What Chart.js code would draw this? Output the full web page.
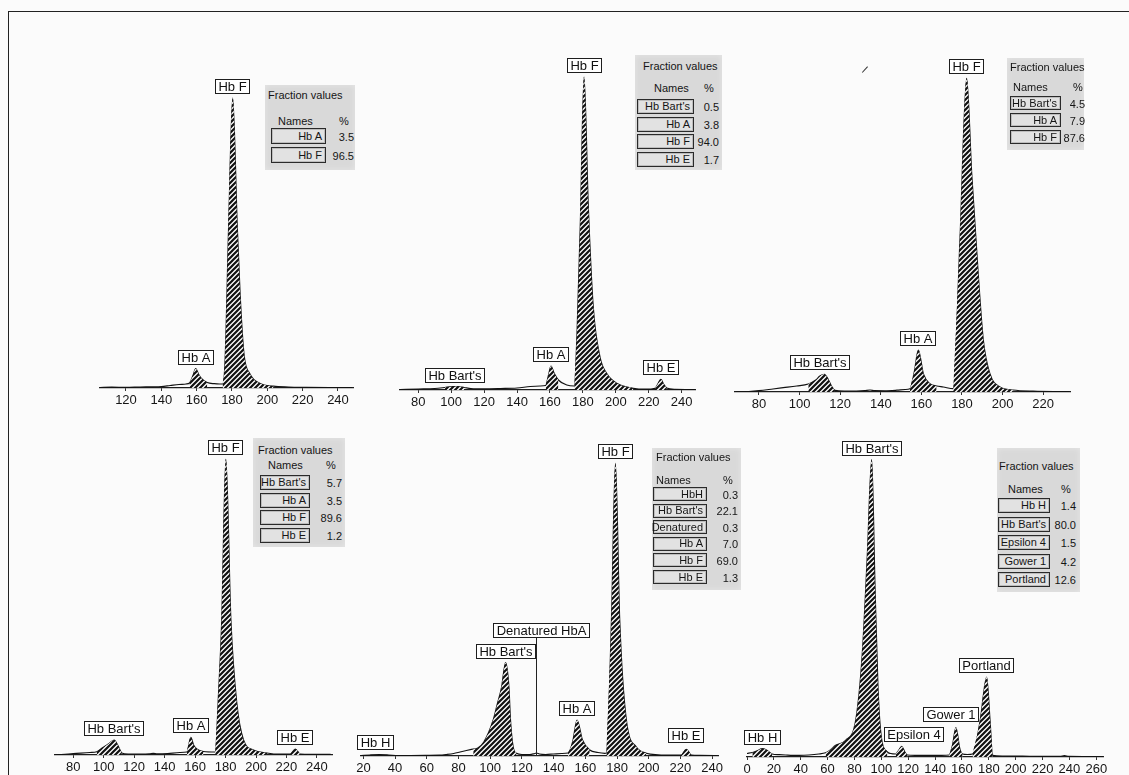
<!DOCTYPE html>
<html>
<head>
<meta charset="utf-8">
<title>Hemoglobin fraction electropherograms</title>
<script src="https://cdn.jsdelivr.net/npm/chart.js@4.4.0/dist/chart.umd.min.js"></script>
<style>
  html, body { margin: 0; padding: 0; }
  body {
    width: 1129px; height: 775px; overflow: hidden; position: relative;
    background: #fbfbfb;
    font-family: "Liberation Sans", Arial, Helvetica, sans-serif;
    color: #151515;
  }
  .frame {
    position: absolute; left: 8px; top: 11px; width: 1160px; height: 800px;
    border-left: 1.5px solid #222; border-top: 1.5px solid #222;
  }
  canvas { position: absolute; }
  .fv {
    position: absolute; background: #d9d9d9; font-size: 11px; line-height: 1;
    box-shadow: inset 0 0 6px rgba(255,255,255,0.35);
  }
  .fv span { position: absolute; white-space: nowrap; }
  .fv .nm {
    position: absolute; box-sizing: border-box; border: 1px solid #2a2a2a;
    box-shadow: inset 0 0 0 1px #bdbdbd; background: #e2e2e2;
    text-align: right; padding-right: 3px; white-space: nowrap;
    display: flex; align-items: center; justify-content: flex-end;
  }
  .speck { position: absolute; background: #333; }
</style>
</head>
<body>
<div class="frame"></div>

<canvas id="c1"></canvas>
<canvas id="c2"></canvas>
<canvas id="c3"></canvas>
<canvas id="c4"></canvas>
<canvas id="c5"></canvas>
<canvas id="c6"></canvas>

<div class="speck" style="left:861px;top:69px;width:8px;height:1.2px;transform:rotate(-48deg);"></div>

<script>
// ---------- Panel 1: Hb A / Hb F ----------
const p1Ticks = [120, 140, 160, 180, 200, 220, 240];
const p1X = [105, 112, 120, 128, 135, 140, 145, 150, 154, 156, 157.8, 159.5, 161, 163, 166, 170, 173, 174.7, 176.1, 178.1, 180.4, 183.0, 184.6, 186.8, 190.2, 195.9, 203.4, 212, 222, 235, 248];
const p1Y = [0.5, 0.8, 0.6, 1, 1.2, 1.5, 2.5, 3.5, 4, 5, 12, 19.5, 14, 9, 5.5, 4.3, 4, 4, 28, 161, 290, 161, 94, 34, 14, 4.5, 1.8, 1, 0.7, 0.5, 0.4];
const p1Peaks = [[155, 167], [174.7, 204]];
const p1Labels = ['Hb A', 'Hb F'];
const p1LabelAt = [159.5, 180.4];
const p1Names = ['Hb A', 'Hb F'];
const p1Pct = ['3.5', '96.5'];

// ---------- Panel 2: Hb Bart's / Hb A / Hb F / Hb E ----------
const p2Ticks = [80, 100, 120, 140, 160, 180, 200, 220, 240];
const p2X = [69, 80, 90, 96, 100, 104, 108, 112, 120, 130, 140, 148, 154, 157.4, 159, 160.6, 162.5, 165.1, 170.2, 174.8, 176.5, 178.5, 180.7, 183.3, 186.3, 190.4, 194.4, 200.5, 210.6, 218, 223.8, 225.5, 227.4, 229, 230.9, 236, 248];
const p2Y = [0.5, 1, 1.5, 2.5, 3.3, 3.5, 2.5, 1.5, 1.2, 1.5, 2, 3.5, 4, 4.5, 14, 24, 17, 10, 5, 4, 60, 170, 313, 183, 83, 33, 16.7, 6.7, 1.7, 0.8, 1.7, 6, 10.7, 6, 2, 0.7, 0.5];
const p2Peaks = [[96, 108], [157.4, 168], [174.8, 211], [223.8, 231]];
const p2Labels = ["Hb Bart's", 'Hb A', 'Hb F', 'Hb E'];
const p2LabelAt = [102.3, 160.6, 180.7, 227.4];
const p2Names = ["Hb Bart's", 'Hb A', 'Hb F', 'Hb E'];
const p2Pct = ['0.5', '3.8', '94.0', '1.7'];

// ---------- Panel 3: Hb Bart's / Hb A / Hb F ----------
const p3Ticks = [80, 100, 120, 140, 160, 180, 200, 220];
const p3X = [68.5, 75, 80, 86.9, 92, 98.6, 104.3, 108, 110, 112.2, 114, 116, 117.4, 122, 128, 132, 134.7, 137, 142, 148, 152, 154.4, 156.5, 158.5, 161, 164.2, 167.5, 170.8, 175.7, 179, 182.3, 184.8, 188, 190.5, 193.8, 198.7, 205.1, 215, 225, 233];
const p3Y = [0, 0.5, 1.3, 3, 4.3, 6, 8, 12, 16, 17.7, 13, 5, 1.7, 1, 1, 1.3, 2, 1.3, 1.2, 1.8, 2.5, 3.3, 20, 42, 18, 8.3, 6, 5, 3.3, 152, 313.7, 218, 118, 52, 18, 5, 2, 0.8, 0.5, 0.5];
const p3Peaks = [[104.3, 117.4], [154.4, 167.5], [175.7, 205.1]];
const p3Labels = ["Hb Bart's", 'Hb A', 'Hb F'];
const p3LabelAt = [112.2, 158.5, 182.3];
const p3Names = ["Hb Bart's", 'Hb A', 'Hb F'];
const p3Pct = ['4.5', '7.9', '87.6'];

// ---------- Panel 4: Hb Bart's / Hb A / Hb F / Hb E ----------
const p4Ticks = [80, 100, 120, 140, 160, 180, 200, 220, 240];
const p4X = [68, 80, 91, 95.4, 99, 103, 106.8, 109.5, 111.8, 116, 124, 130, 132.6, 135, 142, 150, 154.6, 157.2, 159, 161.1, 165.5, 173.2, 175.5, 177.5, 180.2, 183.5, 187.4, 191.8, 198.3, 207.2, 215, 222.5, 225.8, 229, 236, 249];
const p4Y = [0, 1.5, 2.5, 3.3, 7, 11, 15, 9, 2, 1, 1, 1.2, 1.7, 1.2, 1.5, 2.5, 3, 17.7, 10, 6, 3.5, 3, 65, 135, 295.7, 135, 51.7, 15, 5, 2, 0.8, 1, 6, 1, 0.7, 0.7];
const p4Peaks = [[95.4, 111.8], [154.6, 165.5], [173.2, 207.2], [222.5, 229]];
const p4Labels = ["Hb Bart's", 'Hb A', 'Hb F', 'Hb E'];
const p4LabelAt = [106.8, 157.2, 180.2, 225.8];
const p4Names = ["Hb Bart's", 'Hb A', 'Hb F', 'Hb E'];
const p4Pct = ['5.7', '3.5', '89.6', '1.2'];

// ---------- Panel 5: Hb H / Hb Bart's / denatured Hb A / Hb A / Hb F / Hb E ----------
const p5Ticks = [20, 40, 60, 80, 100, 120, 140, 160, 180, 200, 220, 240];
const p5X = [18.5, 24, 30, 36, 42, 50, 60, 68, 72.5, 77, 81, 85, 89.3, 92.2, 96, 101.9, 104.5, 107.2, 109.7, 111.8, 112.8, 114.5, 116.6, 120, 125, 127.5, 129.2, 131, 135, 140, 145, 149.1, 152, 154.8, 158.2, 162.8, 168, 172.3, 173.3, 176.5, 179, 181.7, 185.9, 192.2, 198.5, 206, 215, 220.6, 223.7, 226.9, 232, 243.5];
const p5Y = [0.5, 1, 1.3, 1, 0.5, 0.5, 0.6, 0.8, 1.5, 2.5, 4, 5.5, 7, 8, 14, 36, 52, 69, 93.3, 69, 36, 9, 2.7, 1.5, 1.5, 2.2, 3, 2, 1.5, 2, 2.5, 3, 14, 36, 16, 6, 3.5, 2.7, 3, 136, 292.7, 136, 36, 9, 2.7, 1.2, 0.8, 1, 6.7, 1, 0.6, 0.5];
const p5Peaks = [[89.3, 116.6], [149.1, 162.8], [173.3, 198.5], [220.6, 226.9]];
const p5Labels = ['Hb H', "Hb Bart's", 'Denatured HbA', 'Hb A', 'Hb F', 'Hb E'];
const p5LabelAt = [27.4, 109.7, 129.2, 154.8, 179, 223.7];
const p5Names = ['HbH', "Hb Bart's", 'Denatured', 'Hb A', 'Hb F', 'Hb E'];
const p5Pct = ['0.3', '22.1', '0.3', '7.0', '69.0', '1.3'];

// ---------- Panel 6: embryonic hemoglobins ----------
const p6Ticks = [0, 20, 40, 60, 80, 100, 120, 140, 160, 180, 200, 220, 240, 260];
const p6X = [0, 4, 8, 11.2, 14.5, 18.7, 24, 28.7, 34, 38.6, 46, 53.5, 58.5, 61, 66, 73.4, 80.9, 85.8, 89.6, 92.8, 95.3, 97.5, 100, 104.5, 107, 110.7, 113, 115.2, 117.5, 119.4, 125, 135, 145, 150.5, 153, 155.5, 158.5, 160.4, 164, 167.9, 173.6, 178.4, 180.9, 182.8, 190, 205, 225, 233, 236.3, 239.5, 250, 265];
const p6Y = [3.5, 4.5, 6.5, 8.3, 7, 3, 2.3, 2, 1.7, 1.7, 2, 3, 4.3, 6, 11.7, 16.7, 36.7, 103, 203, 297.4, 170, 70, 20, 5, 3.5, 3, 7, 10.7, 5, 2, 1.7, 1.7, 1.7, 2, 12, 29.4, 8, 3, 2.5, 3, 36.7, 80, 36.7, 1.7, 1, 0.8, 0.6, 0.6, 1.5, 0.6, 0.5, 0.5];
const p6Peaks = [[4, 18.7], [58.5, 104.5], [110.7, 119.4], [150.5, 160.4], [167.9, 182.8]];
const p6Labels = ['Hb H', "Hb Bart's", 'Epsilon 4', 'Gower 1', 'Portland'];
const p6LabelAt = [11.2, 92.8, 115.2, 155.5, 178.4];
const p6Names = ['Hb H', "Hb Bart's", 'Epsilon 4', 'Gower 1', 'Portland'];
const p6Pct = ['1.4', '80.0', '1.5', '4.2', '12.6'];

// ---------- Layout and styling ----------
const FONT = '"Liberation Sans", Arial, Helvetica, sans-serif';

// plot frame per panel: axis start/end, top of plot, axis line (page px)
const frames = [
  { left: 100, right: 353, top: 68, base: 388, min: 105.3, max: 248.5 },
  { left: 400, right: 695, top: 50, base: 390, min: 68.9, max: 248.1 },
  { left: 735, right: 1070, top: 50, base: 392, min: 68.2, max: 233.2 },
  { left: 55, right: 332, top: 430, base: 755, min: 68, max: 249.9 },
  { left: 361, right: 718, top: 430, base: 756, min: 18.5, max: 243.7 },
  { left: 747, right: 1103, top: 430, base: 757, min: 0, max: 265 }
];

// per-label tweaks: horizontal shift, gap above the peak, leader line
const labelStyle = {
  '3:Hb Bart\'s': { dx: -4 },
  '5:Denatured HbA': { dx: 5, gap: 115, leader: true },
  '5:Hb E': { gap: 6 },
  '5:Hb H': { gap: 6 },
  '6:Epsilon 4': { dx: 12 },
  '6:Gower 1': { dx: -5, gap: 6 }
};

// fraction tables: box, title, header, rows (page px)
const tables = [
  { left: 265, top: 85, w: 90, h: 85, tx: 3, ty: 5, hy: 31, nx: 30, px: 78, bx: 6, bw: 55, bh: 16, ry: 43, pitch: 19, vr: 89 },
  { left: 635, top: 55, w: 87, h: 115, tx: 8, ty: 6, hy: 28, nx: 36, px: 73, bx: 2, bw: 57, bh: 15, ry: 44, pitch: 17.7, vr: 84 },
  { left: 1007, top: 58, w: 77, h: 92, tx: 3, ty: 4, hy: 24, nx: 23, px: 70, bx: 3, bw: 51, bh: 14, ry: 38, pitch: 17, vr: 78 },
  { left: 253, top: 438, w: 92, h: 109, tx: 5, ty: 7, hy: 22, nx: 32, px: 77, bx: 7, bw: 50, bh: 15, ry: 37, pitch: 17.7, vr: 89 },
  { left: 652, top: 448, w: 89, h: 142, tx: 4, ty: 4, hy: 27, nx: 21, px: 75, bx: 1, bw: 54, bh: 14, ry: 39, pitch: 16.6, vr: 86 },
  { left: 997, top: 448, w: 83, h: 144, tx: 2, ty: 13, hy: 36, nx: 28, px: 68, bx: 1, bw: 52, bh: 15, ry: 50, pitch: 18.5, vr: 79 }
];

const panels = [
  { x: p1X, y: p1Y, peaks: p1Peaks, labels: p1Labels, at: p1LabelAt, names: p1Names, pct: p1Pct, ticks: p1Ticks },
  { x: p2X, y: p2Y, peaks: p2Peaks, labels: p2Labels, at: p2LabelAt, names: p2Names, pct: p2Pct, ticks: p2Ticks },
  { x: p3X, y: p3Y, peaks: p3Peaks, labels: p3Labels, at: p3LabelAt, names: p3Names, pct: p3Pct, ticks: p3Ticks },
  { x: p4X, y: p4Y, peaks: p4Peaks, labels: p4Labels, at: p4LabelAt, names: p4Names, pct: p4Pct, ticks: p4Ticks },
  { x: p5X, y: p5Y, peaks: p5Peaks, labels: p5Labels, at: p5LabelAt, names: p5Names, pct: p5Pct, ticks: p5Ticks },
  { x: p6X, y: p6Y, peaks: p6Peaks, labels: p6Labels, at: p6LabelAt, names: p6Names, pct: p6Pct, ticks: p6Ticks }
];

// diagonal hatch used under integrated peaks
const hatch = (() => {
  const c = document.createElement('canvas');
  c.width = c.height = 5;
  const g = c.getContext('2d');
  g.fillStyle = '#fdfdfd';
  g.fillRect(0, 0, 5, 5);
  g.strokeStyle = '#111';
  g.lineWidth = 2.2;
  g.beginPath();
  g.moveTo(-1, 6); g.lineTo(6, -1);
  g.moveTo(-1, 1); g.lineTo(1, -1);
  g.moveTo(4, 6); g.lineTo(6, 4);
  g.stroke();
  return g.createPattern(c, 'repeat');
})();

// boxed peak names drawn just above each apex
const peakLabelPlugin = {
  id: 'peakLabels',
  afterDatasetsDraw(chart, args, opts) {
    const { ctx, scales: { x, y } } = chart;
    ctx.save();
    ctx.font = '13px ' + FONT;
    ctx.textAlign = 'center';
    ctx.textBaseline = 'middle';
    const h = 15;
    opts.items.forEach(it => {
      const px = x.getPixelForValue(it.at);
      const cx = px + (it.dx || 0);
      const apex = y.getPixelForValue(it.top);
      const bottom = Math.round(apex - (it.gap ?? 4));
      const w = Math.round(ctx.measureText(it.text).width + 7);
      const l = Math.round(cx - w / 2);
      if (it.leader) {
        ctx.strokeStyle = '#222';
        ctx.lineWidth = 1;
        ctx.beginPath();
        ctx.moveTo(Math.round(px) + 0.5, bottom);
        ctx.lineTo(Math.round(px) + 0.5, y.getPixelForValue(0));
        ctx.stroke();
      }
      ctx.fillStyle = '#fff';
      ctx.fillRect(l, bottom - h, w, h);
      ctx.strokeStyle = '#1e1e1e';
      ctx.lineWidth = 1;
      ctx.strokeRect(l + 0.5, bottom - h + 0.5, w - 1, h - 1);
      ctx.fillStyle = '#111';
      ctx.fillText(it.text, l + w / 2, bottom - h / 2 + 0.5);
    });
    ctx.restore();
  }
};

function apexNear(xs, ys, at) {
  let best = 0;
  xs.forEach((v, i) => { if (Math.abs(v - at) <= 2.5 && ys[i] > best) best = ys[i]; });
  return best;
}

function buildPanel(idx) {
  const P = panels[idx], F = frames[idx];
  const pad = 20, axisH = 22;
  const W = F.right - F.left + 2 * pad;
  const H = F.base - F.top + axisH;
  const cv = document.getElementById('c' + (idx + 1));
  cv.width = W; cv.height = H;
  cv.style.left = (F.left - pad) + 'px';
  cv.style.top = F.top + 'px';
  cv.style.width = W + 'px'; cv.style.height = H + 'px';

  const pts = P.x.map((v, i) => ({ x: v, y: P.y[i] }));
  const fills = P.peaks.map(([a, b]) => ({
    data: pts.filter(p => p.x >= a - 1e-9 && p.x <= b + 1e-9),
    fill: 'origin', backgroundColor: hatch, borderWidth: 0,
    pointRadius: 0, cubicInterpolationMode: 'monotone'
  }));
  const trace = {
    data: pts, fill: false, borderColor: '#121212', borderWidth: 1.2,
    pointRadius: 0, cubicInterpolationMode: 'monotone'
  };

  const items = P.labels.map((t, i) => {
    const st = labelStyle[(idx + 1) + ':' + t] || {};
    return Object.assign({ text: t, at: P.at[i], top: apexNear(P.x, P.y, P.at[i]) }, st);
  });

  new Chart(cv, {
    type: 'line',
    data: { datasets: [...fills, trace] },
    options: {
      animation: false, responsive: false, events: [],
      layout: { padding: { left: pad, right: pad, top: 0, bottom: 0 } },
      plugins: { legend: { display: false }, tooltip: { enabled: false }, peakLabels: { items } },
      scales: {
        x: {
          type: 'linear', min: F.min, max: F.max,
          afterBuildTicks: s => { s.ticks = P.ticks.map(v => ({ value: v })); },
          afterFit: s => { s.height = axisH; },
          grid: { display: true, drawOnChartArea: false, drawTicks: true, tickLength: 3, color: '#333', lineWidth: 1 },
          border: { display: true, color: '#1e1e1e', width: 1.2 },
          ticks: { color: '#151515', font: { family: FONT, size: 13 }, padding: 2, maxRotation: 0, autoSkip: false }
        },
        y: { display: false, min: 0, max: F.base - F.top }
      }
    },
    plugins: [peakLabelPlugin]
  });

  // fraction values table
  const T = tables[idx];
  const box = document.createElement('div');
  box.className = 'fv';
  Object.assign(box.style, { left: T.left + 'px', top: T.top + 'px', width: T.w + 'px', height: T.h + 'px' });
  const add = (txt, css) => { const s = document.createElement('span'); s.textContent = txt; Object.assign(s.style, css); box.appendChild(s); return s; };
  add('Fraction values', { left: T.tx + 'px', top: T.ty + 'px' });
  add('Names', { left: (T.nx - 17) + 'px', top: T.hy + 'px' });
  add('%', { left: (T.px - 4) + 'px', top: T.hy + 'px' });
  P.names.forEach((n, i) => {
    const top = T.ry + i * T.pitch;
    const nm = document.createElement('div');
    nm.className = 'nm';
    nm.textContent = n;
    Object.assign(nm.style, { left: T.bx + 'px', top: top + 'px', width: T.bw + 'px', height: T.bh + 'px' });
    box.appendChild(nm);
    add(P.pct[i], { right: (T.w - T.vr) + 'px', top: (top + (T.bh - 11) / 2 + 1) + 'px' });
  });
  document.body.appendChild(box);
}

for (let i = 0; i < panels.length; i++) buildPanel(i);
</script>
</body>
</html>
